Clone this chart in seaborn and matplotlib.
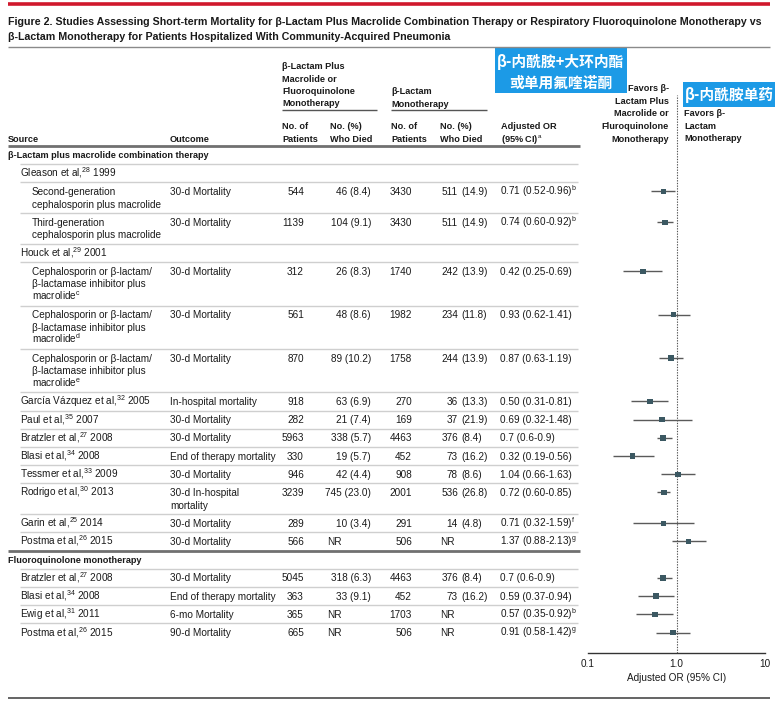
import pandas as pd
import seaborn as sns
import matplotlib.pyplot as plt
from matplotlib import font_manager
from matplotlib.patches import Rectangle

sns.set_style("white")

# narrow font for headings if the system has it
names = {f.name for f in font_manager.fontManager.ttflist}
HEAD = "Liberation Sans Narrow" if "Liberation Sans Narrow" in names else "Liberation Sans"
hs = 1.0 if HEAD == "Liberation Sans Narrow" else 0.83

plt.rcParams["font.family"] = ["Liberation Sans", "DejaVu Sans"]
plt.rcParams["mathtext.fontset"] = "custom"
plt.rcParams["mathtext.rm"] = "Liberation Sans"
plt.rcParams["mathtext.it"] = "Liberation Sans:italic"
plt.rcParams["mathtext.bf"] = "Liberation Sans:bold"

# ---- data ----
sources = [
    "β-Lactam plus macrolide combination therapy",
    "Gleason et al,$^{28}$ 1999",
    "Second-generation\ncephalosporin plus macrolide",
    "Third-generation\ncephalosporin plus macrolide",
    "Houck et al,$^{29}$ 2001",
    "Cephalosporin or β-lactam/\nβ-lactamase inhibitor plus\nmacrolide$^{\\mathrm{c}}$",
    "Cephalosporin or β-lactam/\nβ-lactamase inhibitor plus\nmacrolide$^{\\mathrm{d}}$",
    "Cephalosporin or β-lactam/\nβ-lactamase inhibitor plus\nmacrolide$^{\\mathrm{e}}$",
    "García Vázquez et al,$^{32}$ 2005",
    "Paul et al,$^{35}$ 2007",
    "Bratzler et al,$^{27}$ 2008",
    "Blasi et al,$^{34}$ 2008",
    "Tessmer et al,$^{33}$ 2009",
    "Rodrigo et al,$^{30}$ 2013",
    "Garin et al,$^{25}$ 2014",
    "Postma et al,$^{26}$ 2015",
    "Fluoroquinolone monotherapy",
    "Bratzler et al,$^{27}$ 2008",
    "Blasi et al,$^{34}$ 2008",
    "Ewig et al,$^{31}$ 2011",
    "Postma et al,$^{26}$ 2015",
]
levels = [0, 1, 2, 2, 1, 2, 2, 2, 1, 1, 1, 1, 1, 1, 1, 1, 0, 1, 1, 1, 1]
outcomes = ["", "", "30-d Mortality", "30-d Mortality", "", "30-d Mortality", "30-d Mortality",
            "30-d Mortality", "In-hospital mortality", "30-d Mortality", "30-d Mortality",
            "End of therapy mortality", "30-d Mortality", "30-d In-hospital\nmortality",
            "30-d Mortality", "30-d Mortality", "", "30-d Mortality", "End of therapy mortality",
            "6-mo Mortality", "90-d Mortality"]
n_combo = ["", "", "544", "1139", "", "312", "561", "870", "918", "282", "5963", "330", "946",
           "3239", "289", "566", "", "5045", "363", "365", "665"]
died_combo = ["", "", "46 (8.4)", "104 (9.1)", "", "26 (8.3)", "48 (8.6)", "89 (10.2)",
              "63 (6.9)", "21 (7.4)", "338 (5.7)", "19 (5.7)", "42 (4.4)", "745 (23.0)",
              "10 (3.4)", "NR", "", "318 (6.3)", "33 (9.1)", "NR", "NR"]
n_beta = ["", "", "3430", "3430", "", "1740", "1982", "1758", "270", "169", "4463", "452", "908",
          "2001", "291", "506", "", "4463", "452", "1703", "506"]
died_beta = ["", "", "511 (14.9)", "511 (14.9)", "", "242 (13.9)", "234 (11.8)", "244 (13.9)",
             "36 (13.3)", "37 (21.9)", "376 (8.4)", "73 (16.2)", "78 (8.6)", "536 (26.8)",
             "14 (4.8)", "NR", "", "376 (8.4)", "73 (16.2)", "NR", "NR"]
or_text = ["", "", "0.71 (0.52-0.96)$^{\\mathrm{b}}$", "0.74 (0.60-0.92)$^{\\mathrm{b}}$", "",
           "0.42 (0.25-0.69)", "0.93 (0.62-1.41)", "0.87 (0.63-1.19)", "0.50 (0.31-0.81)",
           "0.69 (0.32-1.48)", "0.7 (0.6-0.9)", "0.32 (0.19-0.56)", "1.04 (0.66-1.63)",
           "0.72 (0.60-0.85)", "0.71 (0.32-1.59)$^{\\mathrm{f}}$", "1.37 (0.88-2.13)$^{\\mathrm{g}}$",
           "", "0.7 (0.6-0.9)", "0.59 (0.37-0.94)", "0.57 (0.35-0.92)$^{\\mathrm{b}}$",
           "0.91 (0.58-1.42)$^{\\mathrm{g}}$"]
or_val = [None, None, 0.71, 0.74, None, 0.42, 0.93, 0.87, 0.50, 0.69, 0.7, 0.32, 1.04, 0.72,
          0.71, 1.37, None, 0.7, 0.59, 0.57, 0.91]
ci_lo = [None, None, 0.52, 0.60, None, 0.25, 0.62, 0.63, 0.31, 0.32, 0.6, 0.19, 0.66, 0.60,
         0.32, 0.88, None, 0.6, 0.37, 0.35, 0.58]
ci_hi = [None, None, 0.96, 0.92, None, 0.69, 1.41, 1.19, 0.81, 1.48, 0.9, 0.56, 1.63, 0.85,
         1.59, 2.13, None, 0.9, 0.94, 0.92, 1.42]

# ---- figure ----
W, H = 782, 707
fig = plt.figure(figsize=(W / 100, H / 100), dpi=100)
tab = fig.add_axes([0, 0, 1, 1])
tab.set_xlim(0, W)
tab.set_ylim(H, 0)
tab.axis("off")

INK = "#1a1a1a"
BODY = 7.2
HSZ = 7.9 * hs


def put(x, yc, s, size=BODY, ha="left", weight="normal", family=None, color=INK):
    # yc is the visual centre of the line in pixels
    px = size * 100 / 72
    kw = dict(ha=ha, va="baseline", fontsize=size, fontweight=weight, color=color)
    if family:
        kw["family"] = family
    tab.text(x, yc + 0.35 * px, s, **kw)


def hline(y, x0, x1, color, lw):
    tab.plot([x0, x1], [y, y], color=color, lw=lw, solid_capstyle="butt")


# title
TSZ = 8.9 * hs * 1.038
hline(4, 8, 770, "#d0182c", 2.6)
put(8, 21, "Figure 2. Studies Assessing Short-term Mortality for β-Lactam Plus Macrolide Combination "
    "Therapy or Respiratory Fluoroquinolone Monotherapy vs", size=TSZ, weight="bold", family=HEAD)
put(8, 36, "β-Lactam Monotherapy for Patients Hospitalized With Community-Acquired Pneumonia",
    size=TSZ, weight="bold", family=HEAD)
hline(47, 8, 770, "#8a8a8a", 1.0)

# column headers
hk = dict(size=HSZ, weight="bold", family=HEAD)
for j, s in enumerate(["β-Lactam Plus", "Macrolide or", "Fluoroquinolone", "Monotherapy"]):
    put(282, 66 + 12.4 * j, s, **hk)
for j, s in enumerate(["β-Lactam", "Monotherapy"]):
    put(391, 91 + 12.4 * j, s, **hk)
hline(110, 282, 377, "#555555", 1.0)
hline(110, 391, 487, "#555555", 1.0)
for x, pair in [(282, ("No. of", "Patients")), (330, ("No. (%)", "Who Died")),
                (391, ("No. of", "Patients")), (440, ("No. (%)", "Who Died")),
                (501, ("Adjusted OR", "(95% CI)$^{\\mathrm{a}}$"))]:
    put(x, 126, pair[0], **hk)
    put(x, 138.5, pair[1], **hk)
put(8, 138.5, "Source", **hk)
put(170, 138.5, "Outcome", **hk)
for j, s in enumerate(["Favors β-", "Lactam Plus", "Macrolide or", "Fluroquinolone", "Monotherapy"]):
    put(669, 88 + 12.6 * j, s, ha="right", **hk)
for j, s in enumerate(["Favors β-", "Lactam", "Monotherapy"]):
    put(684, 113 + 12.6 * j, s, **hk)
hline(146, 8, 580, "#707070", 2.0)

# highlighted chinese labels
BLUE = "#1c9ae6"
cjk = ["Noto Sans CJK SC", "DejaVu Sans"]
tab.add_patch(Rectangle((495, 48), 132, 45, facecolor=BLUE, edgecolor="none"))
put(561, 62, "β-内酰胺+大环内酯", size=10.6, ha="center", weight="bold", family=cjk, color="white")
put(561, 83, "或单用氟喹诺酮", size=10.6, ha="center", weight="bold", family=cjk, color="white")
tab.add_patch(Rectangle((683, 82), 92, 25, facecolor=BLUE, edgecolor="none"))
put(729, 94.5, "β-内酰胺单药", size=10.6, ha="center", weight="bold", family=cjk, color="white")

# table body
LINE = 12.6
indent = {0: 8, 1: 20, 2: 32}
top = 146
centers = []
for i, src in enumerate(sources):
    nl = max(src.count("\n"), outcomes[i].count("\n")) + 1
    h = 5.6 + LINE * nl
    yc = top + 9.1
    centers.append(yc)
    sect = levels[i] == 0
    for j, s in enumerate(src.split("\n")):
        if sect:
            put(indent[0], yc + LINE * j, s, size=HSZ, weight="bold", family=HEAD)
        else:
            put(indent[levels[i]], yc + LINE * j, s)
    for j, s in enumerate(outcomes[i].split("\n")):
        if s:
            put(170, yc + LINE * j, s)
    if n_combo[i]:
        put(304, yc, n_combo[i], ha="right")
        if died_combo[i] == "NR":
            put(327, yc, "NR")
        else:
            put(371, yc, died_combo[i], ha="right")
        put(412, yc, n_beta[i], ha="right")
        if died_beta[i] == "NR":
            put(440, yc, "NR")
        else:
            cnt, pct = died_beta[i].split(" ")
            put(458, yc, cnt, ha="right")
            put(461, yc, pct)
        put(500, yc, or_text[i])
    top += h
    if i == 15:
        hline(top, 8, 580, "#707070", 2.0)
    elif i < len(sources) - 1:
        hline(top, 20, 578, "#cfcfcf", 1.0)

hline(698, 8, 770, "#4a4a4a", 1.2)

# ---- forest plot ----
df = pd.DataFrame({"OR": or_val, "lo": ci_lo, "hi": ci_hi, "y": centers}).dropna()

y_top, y_axis = 95, 653
fax = fig.add_axes([588 / W, 1 - y_axis / H, (765 - 588) / W, (y_axis - y_top) / H])
fax.patch.set_visible(False)
fax.set_xscale("log")
fax.axvline(1.0, color="#555555", lw=0.8, ls=(0, (1.2, 1.2)), zorder=1)
fax.hlines(df["y"], df["lo"], df["hi"], color="#5a5a5a", lw=1.0, zorder=2)
sns.scatterplot(data=df, x="OR", y="y", marker="s", s=16, color="#3b5862",
                edgecolor="none", ax=fax, zorder=3, legend=False)
fax.set_xlim(0.1, 10)
fax.set_ylim(y_axis, y_top)
fax.set_yticks([])
for sp in ["left", "top", "right"]:
    fax.spines[sp].set_visible(False)
fax.spines["bottom"].set_color("#333333")
fax.spines["bottom"].set_linewidth(1.0)
fax.set_xticks([0.1, 1, 10])
fax.set_xticklabels(["0.1", "1.0", "10"])
fax.tick_params(axis="x", which="major", direction="in", length=5, width=0.9,
                color="#333333", labelsize=BODY, labelcolor=INK, pad=4)
fax.tick_params(axis="x", which="minor", direction="in", length=3, width=0.7, color="#333333")
fax.set_xlabel("Adjusted OR (95% CI)", fontsize=BODY, color=INK, labelpad=3)
fax.set_ylabel("")

fig.savefig("out.png", dpi=100)
